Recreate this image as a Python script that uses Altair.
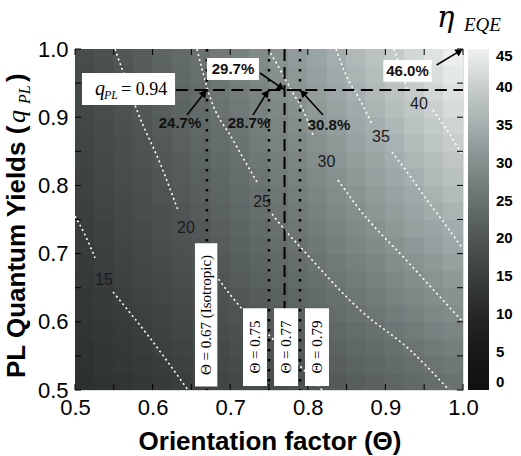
import math
import altair as alt
import pandas as pd

W, H = 388, 341
SANS = "Liberation Sans"
SERIF = "Liberation Serif"

# ---------------- data ----------------
# cell centres of the eta_EQE map
theta_centers = [0.5125, 0.5375, 0.5625, 0.5875, 0.6125, 0.6375, 0.6625, 0.6875, 0.7125, 0.7375,
                 0.7625, 0.7875, 0.8125, 0.8375, 0.8625, 0.8875, 0.9125, 0.9375, 0.9625, 0.9875]
q_centers = theta_centers[:]

# eta_EQE (%) per q_PL row, Theta increasing left to right
eqe_q0513 = [11.9, 12.5, 13.2, 13.8, 14.5, 15.2, 15.9, 16.6, 17.3, 18.0, 18.7, 19.4, 20.1, 20.9, 21.6, 22.3, 23.0, 23.7, 24.4, 25.1]
eqe_q0538 = [12.3, 13.0, 13.7, 14.3, 15.0, 15.8, 16.5, 17.2, 18.0, 18.7, 19.4, 20.2, 21.0, 21.7, 22.5, 23.2, 24.0, 24.7, 25.5, 26.2]
eqe_q0563 = [12.7, 13.4, 14.1, 14.8, 15.6, 16.3, 17.1, 17.8, 18.6, 19.4, 20.2, 21.0, 21.7, 22.5, 23.3, 24.1, 24.9, 25.7, 26.5, 27.3]
eqe_q0588 = [13.1, 13.8, 14.5, 15.3, 16.1, 16.8, 17.6, 18.4, 19.2, 20.0, 20.9, 21.7, 22.5, 23.4, 24.2, 25.0, 25.9, 26.7, 27.6, 28.4]
eqe_q0613 = [13.5, 14.2, 15.0, 15.7, 16.5, 17.3, 18.2, 19.0, 19.8, 20.7, 21.5, 22.4, 23.3, 24.2, 25.1, 25.9, 26.8, 27.7, 28.6, 29.5]
eqe_q0638 = [13.8, 14.6, 15.4, 16.2, 17.0, 17.9, 18.7, 19.6, 20.4, 21.3, 22.2, 23.1, 24.0, 25.0, 25.9, 26.8, 27.8, 28.7, 29.6, 30.5]
eqe_q0663 = [14.2, 15.0, 15.8, 16.6, 17.5, 18.3, 19.2, 20.1, 21.0, 22.0, 22.9, 23.8, 24.8, 25.8, 26.7, 27.7, 28.7, 29.6, 30.6, 31.6]
eqe_q0688 = [14.5, 15.4, 16.2, 17.1, 17.9, 18.8, 19.7, 20.7, 21.6, 22.6, 23.5, 24.5, 25.5, 26.5, 27.5, 28.5, 29.6, 30.6, 31.6, 32.7]
eqe_q0713 = [14.9, 15.7, 16.6, 17.5, 18.4, 19.3, 20.2, 21.2, 22.2, 23.2, 24.2, 25.2, 26.2, 27.3, 28.3, 29.4, 30.5, 31.5, 32.6, 33.7]
eqe_q0738 = [15.2, 16.1, 17.0, 17.9, 18.8, 19.8, 20.7, 21.7, 22.7, 23.8, 24.8, 25.9, 26.9, 28.0, 29.1, 30.2, 31.4, 32.5, 33.6, 34.7]
eqe_q0763 = [15.5, 16.4, 17.3, 18.3, 19.2, 20.2, 21.2, 22.2, 23.3, 24.4, 25.4, 26.5, 27.6, 28.8, 29.9, 31.1, 32.2, 33.4, 34.6, 35.8]
eqe_q0788 = [15.8, 16.8, 17.7, 18.7, 19.7, 20.7, 21.7, 22.8, 23.8, 24.9, 26.0, 27.2, 28.3, 29.5, 30.7, 31.9, 33.1, 34.3, 35.5, 36.8]
eqe_q0813 = [16.1, 17.1, 18.1, 19.0, 20.1, 21.1, 22.2, 23.2, 24.4, 25.5, 26.6, 27.8, 29.0, 30.2, 31.4, 32.7, 33.9, 35.2, 36.5, 37.8]
eqe_q0838 = [16.4, 17.4, 18.4, 19.4, 20.5, 21.5, 22.6, 23.7, 24.9, 26.0, 27.2, 28.4, 29.7, 30.9, 32.2, 33.5, 34.8, 36.1, 37.4, 38.8]
eqe_q0863 = [16.7, 17.7, 18.7, 19.8, 20.8, 21.9, 23.1, 24.2, 25.4, 26.6, 27.8, 29.0, 30.3, 31.6, 32.9, 34.3, 35.6, 37.0, 38.4, 39.8]
eqe_q0888 = [17.0, 18.0, 19.1, 20.1, 21.2, 22.3, 23.5, 24.7, 25.9, 27.1, 28.4, 29.7, 31.0, 32.3, 33.7, 35.0, 36.4, 37.9, 39.3, 40.8]
eqe_q0913 = [17.3, 18.3, 19.4, 20.5, 21.6, 22.7, 23.9, 25.1, 26.4, 27.6, 28.9, 30.2, 31.6, 33.0, 34.4, 35.8, 37.3, 38.7, 40.2, 41.8]
eqe_q0938 = [17.6, 18.6, 19.7, 20.8, 22.0, 23.1, 24.3, 25.6, 26.9, 28.1, 29.5, 30.8, 32.2, 33.6, 35.1, 36.6, 38.1, 39.6, 41.1, 42.7]
eqe_q0963 = [17.8, 18.9, 20.0, 21.2, 22.3, 23.5, 24.8, 26.0, 27.3, 28.7, 30.0, 31.4, 32.8, 34.3, 35.8, 37.3, 38.9, 40.4, 42.1, 43.7]
eqe_q0988 = [18.1, 19.2, 20.3, 21.5, 22.7, 23.9, 25.2, 26.5, 27.8, 29.2, 30.5, 32.0, 33.4, 34.9, 36.5, 38.0, 39.6, 41.3, 42.9, 44.6]
eqe_rows = [eqe_q0513, eqe_q0538, eqe_q0563, eqe_q0588, eqe_q0613, eqe_q0638, eqe_q0663, eqe_q0688,
            eqe_q0713, eqe_q0738, eqe_q0763, eqe_q0788, eqe_q0813, eqe_q0838, eqe_q0863, eqe_q0888,
            eqe_q0913, eqe_q0938, eqe_q0963, eqe_q0988]

tick_values = [0.5, 0.55, 0.6, 0.65, 0.7, 0.75, 0.8, 0.85, 0.9, 0.95, 1.0]
label_values = [0.5, 0.6, 0.7, 0.8, 0.9, 1.0]
cbar_ticks = [0, 5, 10, 15, 20, 25, 30, 35, 40, 45]

# dotted white iso-EQE contours (segments split where the inline label sits)
c15_theta = [0.5, 0.5129, 0.5258, 0.549, 0.5966, 0.6456]
c15_q = [0.7551, 0.7273, 0.6935, 0.6437, 0.5762, 0.5]
c15_seg = [0, 0, 0, 1, 1, 1]
c20_theta = [0.5515, 0.5657, 0.5812, 0.6095, 0.6327, 0.6559, 0.683, 0.7165, 0.7539, 0.7925, 0.8183]
c20_q = [1.0, 0.9545, 0.9062, 0.8328, 0.7639, 0.7111, 0.6657, 0.6173, 0.5762, 0.5323, 0.5]
c20_seg = [0, 0, 0, 0, 0, 1, 1, 1, 1, 1, 1]
c25_theta = [0.6572, 0.674, 0.7036, 0.7345, 0.7539, 0.7706, 0.7938, 0.8673, 0.9317, 0.982]
c25_q = [1.0, 0.9296, 0.8666, 0.805, 0.7581, 0.7346, 0.7053, 0.6173, 0.5587, 0.5]
c25_seg = [0, 0, 0, 0, 1, 1, 1, 1, 1, 1]
c30_theta = [0.7487, 0.7668, 0.7809, 0.7938, 0.8067, 0.8389, 0.8621, 0.9291, 1.0]
c30_q = [1.0, 0.9648, 0.9355, 0.9106, 0.8739, 0.8079, 0.7713, 0.6877, 0.5997]
c30_seg = [0, 0, 0, 0, 0, 1, 1, 1, 1]
c35_theta = [0.8363, 0.8492, 0.8673, 0.8827, 0.9085, 0.9317, 0.9536, 0.9768, 1.0]
c35_q = [1.0, 0.9619, 0.9252, 0.89, 0.849, 0.8138, 0.7786, 0.7434, 0.7067]
c35_seg = [0, 0, 0, 0, 1, 1, 1, 1, 1]
c40_theta = [0.9111, 0.9188, 0.9278, 0.9613, 0.9858, 1.0]
c40_q = [1.0, 0.9721, 0.9399, 0.9106, 0.8695, 0.8431]
c40_seg = [0, 0, 0, 1, 1, 1]

contour_label_text = ["15", "20", "25", "30", "35", "40"]
contour_label_theta = [0.5374, 0.643, 0.741, 0.824, 0.8943, 0.9433]
contour_label_q = [0.6613, 0.7375, 0.7757, 0.8343, 0.871, 0.9194]

marked_theta = [0.67, 0.75, 0.77, 0.79]
marked_q = 0.94
marked_eqe = [24.7, 28.7, 29.7, 30.8]
corner_eqe = 46.0

# colour map (black -> grey-teal -> white)
cmap_domain = [0, 5, 10, 15, 20, 25, 30, 35, 40, 45]
cmap_range = ["#101010", "#171818", "#262828", "#393d3d", "#4f5555", "#687170",
              "#858f8e", "#a5aeae", "#c8cece", "#eff1f1"]

# ---------------- scales / axes ----------------
xs = alt.Scale(domain=[0.5, 1.0], nice=False, zero=False)
ys = alt.Scale(domain=[0.5, 1.0], nice=False, zero=False)
x_axis = alt.Axis(values=label_values, format=".1f", ticks=False, domain=False, grid=False,
                  labelFont=SANS, labelFontSize=22, labelColor="black", labelPadding=7,
                  labelFlush=False, title=None)
y_axis = alt.Axis(values=label_values, format=".1f", ticks=False, domain=False, grid=False,
                  labelFont=SANS, labelFontSize=22, labelColor="black", labelPadding=7,
                  labelFlush=False, title=None)


def X(f):
    return alt.X(f, scale=xs, axis=x_axis)


def Y(f):
    return alt.Y(f, scale=ys, axis=y_axis)


one = pd.DataFrame({"d": [0]})

# ---------------- heat map ----------------
hrows = []
for qv, row in zip(q_centers, eqe_rows):
    for tv, v in zip(theta_centers, row):
        hrows.append({"t": tv, "q": qv, "v": v})
hdf = pd.DataFrame(hrows)
half = 0.0125
ov = 0.0007  # slight overlap so neighbouring cells leave no seams
heat = alt.Chart(hdf).transform_calculate(
    t0=f"max(0.5, datum.t - {half + ov})", t1=f"min(1.0, datum.t + {half + ov})",
    q0=f"max(0.5, datum.q - {half + ov})", q1=f"min(1.0, datum.q + {half + ov})",
).mark_rect(strokeWidth=0).encode(
    x=X("t0:Q"), x2="t1:Q", y=Y("q0:Q"), y2="q1:Q",
    fill=alt.Fill("v:Q", scale=alt.Scale(domain=cmap_domain, range=cmap_range, clamp=True,
                                         interpolate="rgb"),
                  legend=alt.Legend(type="gradient", orient="none", legendX=W + 5, legendY=0,
                                    direction="vertical",
                                    gradientLength=H, gradientThickness=21, values=cbar_ticks,
                                    labelFont=SANS, labelFontSize=15, labelFontWeight="bold",
                                    labelColor="black", labelOffset=7, labelOverlap=False,
                                    gradientStrokeWidth=0, padding=0, title=None)),
)

# ---------------- contours ----------------
crow = []
for lev, th, qq, sg in [(15, c15_theta, c15_q, c15_seg), (20, c20_theta, c20_q, c20_seg),
                        (25, c25_theta, c25_q, c25_seg), (30, c30_theta, c30_q, c30_seg),
                        (35, c35_theta, c35_q, c35_seg), (40, c40_theta, c40_q, c40_seg)]:
    for a, b, s in zip(th, qq, sg):
        crow.append({"t": a, "q": b, "key": f"{lev}_{s}"})
cdf = pd.DataFrame(crow)
contours = alt.Chart(cdf).mark_line(color="white", strokeWidth=1.6, strokeDash=[2, 3],
                                    interpolate="monotone").encode(
    x=X("t:Q"), y=Y("q:Q"), detail="key:N", order="t:Q")
clabels = alt.Chart(pd.DataFrame({"t": contour_label_theta, "q": contour_label_q,
                                  "s": contour_label_text})).mark_text(
    font=SANS, fontSize=16, color="#1c1c1c").encode(x=X("t:Q"), y=Y("q:Q"), text="s:N")

# ---------------- inward ticks ----------------
tdf = pd.DataFrame({"v": tick_values})
tick_b = alt.Chart(tdf).mark_rule(color="black").encode(x=X("v:Q"), y=alt.value(H), y2=alt.value(H - 6))
tick_t = alt.Chart(tdf).mark_rule(color="black").encode(x=X("v:Q"), y=alt.value(0), y2=alt.value(6))
tick_l = alt.Chart(tdf).mark_rule(color="black").encode(y=Y("v:Q"), x=alt.value(0), x2=alt.value(6))
tick_r = alt.Chart(tdf).mark_rule(color="black").encode(y=Y("v:Q"), x=alt.value(W), x2=alt.value(W - 6))

# ---------------- marker lines ----------------
dotted = alt.Chart(pd.DataFrame({"t": [marked_theta[0], marked_theta[1], marked_theta[3]]})).mark_rule(
    color="black", strokeWidth=2.5, strokeDash=[2.5, 7.5]).encode(x=X("t:Q"), y=alt.value(0), y2=alt.value(H))
dashed_v = alt.Chart(pd.DataFrame({"t": [marked_theta[2]]})).mark_rule(
    color="black", strokeWidth=2, strokeDash=[12, 6]).encode(x=X("t:Q"), y=alt.value(0), y2=alt.value(H))
dashed_h = alt.Chart(pd.DataFrame({"q": [marked_q], "t0": [0.63], "t1": [1.0]})).mark_rule(
    color="black", strokeWidth=2, strokeDash=[12, 6.5]).encode(y=Y("q:Q"), x=X("t0:Q"), x2="t1:Q")

# ---------------- white boxes and their texts ----------------
boxes = pd.DataFrame({
    "t0": [0.509, 0.670, 0.8973, 0.6546, 0.7165, 0.7565, 0.7964],
    "t1": [0.6289, 0.737, 0.9597, 0.6834, 0.7474, 0.7874, 0.8273],
    "q0": [0.9179, 0.9545, 0.952, 0.505, 0.506, 0.506, 0.506],
    "q1": [0.9648, 0.9868, 0.9839, 0.715, 0.620, 0.620, 0.620],
})
box_layer = alt.Chart(boxes).mark_rect(color="white").encode(
    x=X("t0:Q"), x2="t1:Q", y=Y("q0:Q"), y2="q1:Q")

vtext = pd.DataFrame({
    "t": [0.669, 0.732, 0.772, 0.812],
    "q": [0.61, 0.563, 0.563, 0.563],
    "s": [f"\u0398 = {marked_theta[0]:.2f} (Isotropic)", f"\u0398 = {marked_theta[1]:.2f}",
          f"\u0398 = {marked_theta[2]:.2f}", f"\u0398 = {marked_theta[3]:.2f}"],
})
vtext_layer = alt.Chart(vtext).mark_text(font=SERIF, fontSize=15, angle=270, color="black",
                                         align="center", baseline="middle").encode(
    x=X("t:Q"), y=Y("q:Q"), text="s:N")

pct = pd.DataFrame({
    "t": [0.6353, 0.7242, 0.7036, 0.8273, 0.9285],
    "q": [0.8922, 0.8922, 0.9714, 0.8886, 0.9677],
    "s": [f"{v:.1f}%" for v in marked_eqe] + [f"{corner_eqe:.1f}%"],
})
pct_layer = alt.Chart(pct).mark_text(font=SANS, fontSize=15, fontWeight="bold", color="#111111",
                                     align="center", baseline="middle").encode(
    x=X("t:Q"), y=Y("q:Q"), text="s:N")

# ---------------- arrows ----------------
arr = pd.DataFrame({
    "t0": [0.6443, 0.7294, 0.7384, 0.8196, 0.966],
    "q0": [0.9032, 0.9032, 0.9648, 0.9032, 0.9765],
    "t1": [marked_theta[0], marked_theta[1], marked_theta[2], marked_theta[3], 1.0],
    "q1": [marked_q, marked_q, marked_q, marked_q, 1.0],
    "ang": [40.6, 36.1, 124.8, 316.2, 58.7],
})
arr["ht"] = arr["t1"] - 4 * arr["ang"].map(lambda a: math.sin(math.radians(a))) / 776
arr["hq"] = arr["q1"] - 4 * arr["ang"].map(lambda a: math.cos(math.radians(a))) / 682
arrow_lines = alt.Chart(arr).mark_rule(color="black", strokeWidth=1.6).encode(
    x=X("t0:Q"), y=Y("q0:Q"), x2="ht:Q", y2="hq:Q")
arrow_heads = alt.Chart(arr).mark_point(shape="triangle-up", filled=True, color="black", size=70,
                                        opacity=1).encode(
    x=X("ht:Q"), y=Y("hq:Q"), angle=alt.Angle("ang:Q", scale=None))

# ---------------- q_PL box text ----------------
qtxt1 = alt.Chart(one).mark_text(text="q", font=SERIF, fontStyle="italic", fontSize=20, align="left",
                                 baseline="alphabetic", color="black").encode(
    x=alt.value(95 - 75), y=alt.value(95 - 49))
qtxt2 = alt.Chart(one).mark_text(text="PL", font=SERIF, fontStyle="italic", fontSize=12, align="left",
                                 baseline="alphabetic", color="black").encode(
    x=alt.value(104 - 75), y=alt.value(99 - 49))
qtxt3 = alt.Chart(one).mark_text(text=f"= {marked_q:.2f}", font=SERIF, fontSize=18, align="left",
                                 baseline="alphabetic", color="black").encode(
    x=alt.value(121 - 75), y=alt.value(95 - 49))

# ---------------- axis titles ----------------
xtitle = alt.Chart(one).mark_text(text="Orientation factor (\u0398)", font=SANS, fontSize=26,
                                  fontWeight="bold", align="center", baseline="alphabetic",
                                  color="black").encode(x=alt.value(W / 2 + 1), y=alt.value(450 - 49))
yt1 = alt.Chart(one).mark_text(text="PL Quantum Yields (", font=SANS, fontSize=26, fontWeight="bold",
                               angle=270, align="left", baseline="alphabetic", color="black").encode(
    x=alt.value(25 - 75), y=alt.value(378 - 49))
yt2 = alt.Chart(one).mark_text(text="q", font=SERIF, fontSize=26, fontStyle="italic",
                               angle=270, align="left", baseline="alphabetic", color="black").encode(
    x=alt.value(25 - 75), y=alt.value(123 - 49))
yt3 = alt.Chart(one).mark_text(text="PL", font=SERIF, fontSize=16, fontStyle="italic",
                               angle=270, align="left", baseline="alphabetic", color="black").encode(
    x=alt.value(30 - 75), y=alt.value(104 - 49))
yt4 = alt.Chart(one).mark_text(text=")", font=SANS, fontSize=26, fontWeight="bold",
                               angle=270, align="left", baseline="alphabetic", color="black").encode(
    x=alt.value(25 - 75), y=alt.value(82 - 49))

# ---------------- colour-bar title ----------------
eta = alt.Chart(one).mark_text(text="\u03b7", font="DejaVu Serif", fontSize=29, fontStyle="italic",
                               align="left", baseline="alphabetic", color="black").encode(
    x=alt.value(437 - 75), y=alt.value(27 - 49))
eqe = alt.Chart(one).mark_text(text="EQE", font=SERIF, fontSize=19, fontStyle="italic", align="left",
                               baseline="alphabetic", color="black").encode(
    x=alt.value(464 - 75), y=alt.value(31 - 49))

chart = alt.layer(
    heat, contours, clabels, tick_b, tick_t, tick_l, tick_r,
    dotted, dashed_v, dashed_h, box_layer, vtext_layer, pct_layer,
    arrow_lines, arrow_heads, qtxt1, qtxt2, qtxt3, xtitle, yt1, yt2, yt3, yt4, eta, eqe,
).properties(
    width=W, height=H,
    autosize=alt.AutoSizeParams(type="none"),
    padding={"left": 75, "top": 49, "right": 58, "bottom": 66},
).configure_view(stroke="black", strokeWidth=1).configure(background="white")

chart.save("out.html", embed_options={"renderer": "svg", "actions": False})
